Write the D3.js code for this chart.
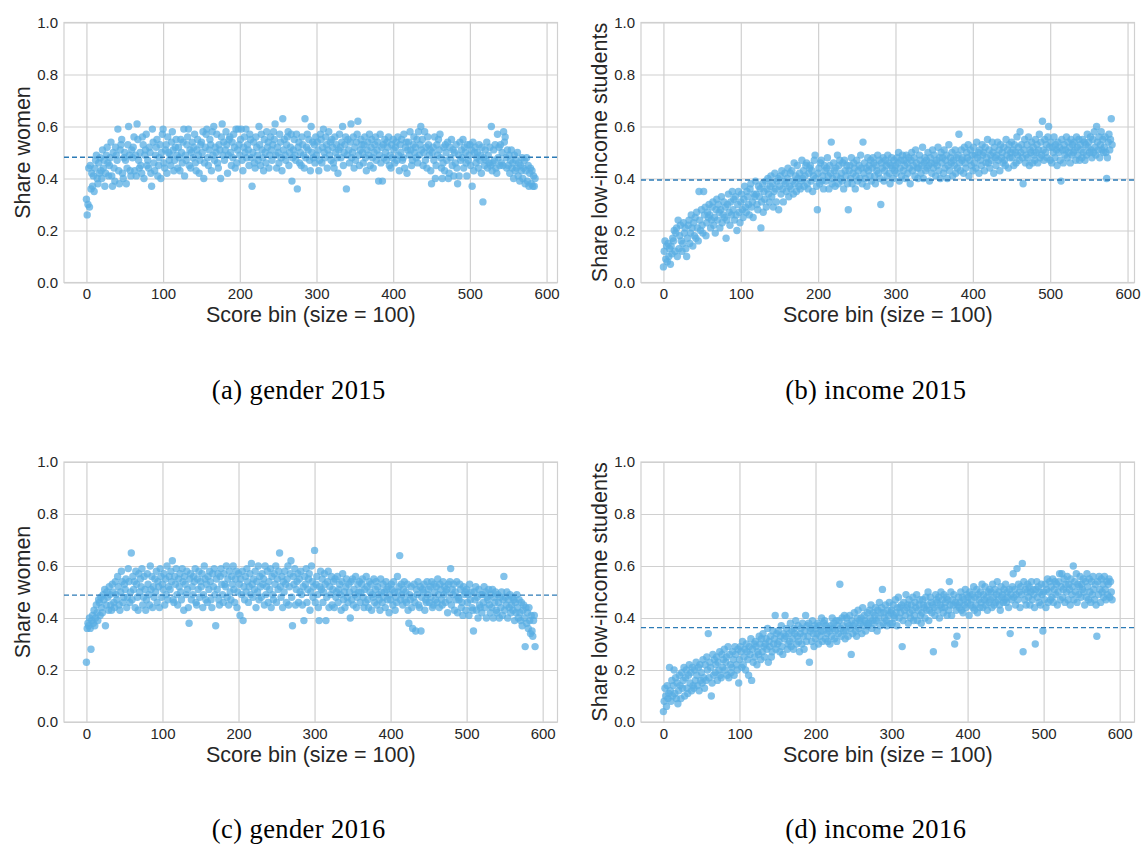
<!DOCTYPE html>
<html>
<head>
<meta charset="utf-8">
<script src="https://cdn.jsdelivr.net/npm/d3@7"></script>
<style>
  body { margin: 0; background: #ffffff; }
  .tick text { font-family: "Liberation Sans", Arial, sans-serif; font-size: 15px; fill: #262626; }
  .axisLabel { font-family: "Liberation Sans", Arial, sans-serif; font-size: 21.5px; fill: #262626; }
  .caption { font-family: "Liberation Serif", "Times New Roman", serif; font-size: 26.5px; letter-spacing: 0.4px; fill: #000; }
</style>
</head>
<body>
<div id="figure"></div>
<script>
// Share per score bin, in percent, one value per bin (bin index = position)
var gender2015 = [
  32,26,30,44,29,45,36,42,37,41, 35,44,47,49,40,38,46,42,48,43, 40,51,44,47,37,42,49,52,46,41,
  45,48,54,41,37,50,44,39,52,49, 47,59,43,38,51,53,55,42,40,48, 50,47,38,44,53,60,49,43,41,51,
  48,52,56,43,49,41,61,55,47,44, 50,45,42,56,53,40,49,51,57,45, 47,44,52,50,42,37,59,54,46,43,
  49,52,55,41,45,48,53,40,50,57, 59,46,44,51,53,42,56,50,47,49, 45,54,58,51,43,47,52,55,49,44,
  52,48,43,55,50,46,54,59,41,49, 47,53,56,59,45,51,44,50,54,48, 52,57,46,43,51,55,49,42,47,53,
  54,50,58,40,46,52,57,59,48,45, 51,55,53,43,58,49,60,47,52,50, 57,46,44,53,51,40,56,61,49,54,
  47,51,58,53,42,49,55,56,50,45, 54,48,57,52,44,59,46,51,59,53, 49,55,59,47,43,52,56,50,59,48,
  53,51,45,57,55,48,37,50,54,46, 44,56,52,49,47,60,53,45,57,51, 48,43,55,50,46,58,52,54,44,49,
  56,51,47,53,58,55,61,49,44,52, 50,46,57,54,48,43,63,51,55,49, 47,53,56,58,45,50,52,57,39,48,
  51,55,49,47,57,36,52,54,46,50, 45,56,53,49,44,63,48,52,57,51, 55,47,43,60,50,54,48,53,46,56,
  49,54,51,43,47,57,55,46,52,59, 50,48,56,53,44,51,58,49,54,47, 55,52,46,44,56,50,53,48,42,51,
  57,52,48,54,60,45,50,53,56,36, 49,55,51,46,54,61,48,50,56,44, 52,47,54,57,62,49,45,51,55,53,
  50,46,53,56,48,43,51,54,49,57, 45,52,55,48,44,50,53,56,47,51, 54,39,49,57,46,52,39,53,48,55,
  50,47,54,52,56,45,49,44,53,48, 55,51,46,52,54,47,56,49,43,53, 50,55,47,48,57,44,52,54,42,51,
  54,49,58,51,45,47,53,56,50,52, 48,55,46,58,49,53,60,51,55,45, 50,58,47,52,44,56,53,49,51,43,
  38,50,52,47,56,40,45,53,49,55, 51,57,48,44,40,46,52,43,53,50, 47,54,40,42,52,48,55,45,51,41,
  50,46,53,44,38,49,41,54,47,51, 48,55,44,52,50,46,41,53,47,49, 53,45,51,37,54,43,50,52,46,48,
  50,44,53,47,49,42,52,31,48,45, 51,47,54,44,49,46,52,45,60,43, 46,51,47,53,44,42,57,48,52,45,
  53,46,50,45,58,54,56,48,44,51, 45,49,42,47,51,44,46,40,49,43, 47,44,50,41,46,39,45,43,48,40,
  44,47,38,43,48,39,45,37,42,44, 38,43,37,41,37,40
];

var income2015 = [
  6,12,16,9,14,8,15,10,13,7, 14,11,17,16,20,12,19,21,10,24, 13,18,22,16,12,15,23,19,21,13,
  10,17,22,24,15,19,26,21,14,23, 18,25,17,27,21,16,35,24,20,28, 22,19,35,26,29,18,23,27,25,30,
  26,21,24,29,31,22,25,19,28,32, 24,30,27,21,28,33,23,26,31,25, 29,17,24,30,34,27,22,31,26,35,
  28,32,24,33,26,20,30,35,27,23, 31,34,28,25,32,37,29,27,35,33, 30,26,36,38,29,31,25,34,33,39,
  34,30,28,37,33,36,21,31,38,27, 35,32,39,29,36,40,34,31,37,41, 33,38,29,35,42,36,31,39,40,28,
  37,41,34,43,36,31,39,42,38,35, 40,44,33,37,42,36,43,39,34,46, 38,41,35,45,40,37,42,36,39,47,
  40,43,37,41,45,46,38,36,42,44, 45,39,43,35,41,47,49,40,37,28, 42,44,38,46,47,39,41,36,45,43,
  39,44,48,41,36,45,42,54,38,40, 46,43,37,44,41,49,38,45,47,40, 42,39,46,36,47,43,41,45,38,28,
  43,45,40,48,38,42,46,44,36,41, 47,39,43,45,40,49,44,38,54,42, 46,40,44,37,48,43,45,41,47,39,
  44,48,46,41,38,45,43,49,42,47, 40,30,46,44,48,39,43,47,45,41, 49,46,42,38,45,48,44,40,47,43,
  45,42,48,46,50,39,44,47,41,49, 43,47,45,40,49,46,42,48,44,38, 47,50,43,45,48,41,51,46,44,40,
  44,49,47,42,45,52,40,46,48,43, 47,44,50,45,39,48,46,42,51,44, 49,46,41,47,45,52,43,48,40,50,
  46,48,42,51,44,47,49,40,45,53, 43,48,46,50,41,47,45,51,42,48, 44,49,57,46,43,51,47,48,42,52,
  46,44,50,48,53,41,47,51,45,49, 43,52,46,49,44,54,48,50,42,51, 47,45,53,49,50,43,52,46,48,55,
  46,51,44,49,47,54,50,42,52,48, 45,49,54,47,51,43,53,48,50,46, 52,47,45,55,49,51,44,53,48,50,
  54,48,51,45,53,50,46,56,49,52, 47,58,50,53,48,38,51,55,46,49, 53,48,56,45,51,50,54,46,52,49,
  47,55,50,53,46,51,57,48,54,49, 62,51,47,55,50,53,48,56,60,52, 47,54,46,52,50,56,48,53,51,45,
  54,50,52,47,39,55,51,46,53,49, 51,56,48,54,50,52,46,55,49,53, 50,54,51,47,56,52,49,55,47,53,
  51,48,55,50,54,47,53,49,57,52, 54,50,56,51,48,55,50,58,52,49, 60,54,51,56,48,53,58,51,55,50,
  52,56,50,40,48,54,57,51,55,63, 53
];

var gender2016 = [
  23,36,38,37,40,36,28,39,41,38, 43,37,40,45,42,39,47,46,41,48, 44,42,49,47,51,37,45,50,48,43,
  52,49,45,43,53,50,46,44,54,49, 47,56,52,45,43,50,58,54,46,48, 53,51,55,44,48,59,54,46,50,65,
  47,56,51,54,44,58,53,48,43,57, 50,55,52,59,45,48,56,51,43,47, 57,53,49,45,60,51,56,44,52,48,
  55,50,58,46,54,52,44,59,56,48, 53,51,57,45,55,49,60,47,52,56, 51,58,54,62,47,46,56,53,59,49,
  45,55,52,57,50,47,59,54,43,56, 53,49,58,51,44,38,55,57,47,52, 49,56,54,59,46,45,55,51,58,48,
  54,52,57,44,49,60,55,47,53,46, 56,51,58,54,47,44,57,52,59,49, 37,55,51,57,47,45,56,59,53,49,
  46,57,53,52,60,48,55,45,58,50, 47,56,53,60,51,46,55,58,44,50, 57,53,41,55,49,58,39,52,47,56,
  50,59,54,46,52,57,49,61,53,48, 55,51,58,44,54,50,60,47,56,52, 48,57,53,55,45,60,49,52,58,46,
  54,51,59,44,56,49,47,57,53,60, 46,55,51,58,65,52,48,56,44,54, 50,58,53,46,55,60,45,52,57,62,
  48,37,56,53,59,45,51,54,57,46, 55,50,58,49,45,52,39,56,53,59, 46,51,55,57,43,50,60,54,48,52,
  66,46,53,56,49,44,39,52,58,51, 55,46,50,57,53,39,48,54,58,44, 52,49,56,45,51,54,44,55,48,50,
  56,46,51,53,49,43,54,57,47,50, 44,52,55,48,46,53,50,40,54,47, 55,45,51,49,56,44,48,53,50,54,
  46,50,53,55,48,44,51,46,56,52, 47,44,54,50,53,43,49,48,55,46, 51,54,45,52,49,47,43,55,50,46,
  53,48,50,44,54,51,47,52,42,49, 47,53,51,45,54,50,43,48,46,56, 50,52,64,47,53,49,45,51,54,47,
  50,46,53,43,38,49,47,52,44,36, 48,53,46,35,51,49,54,45,44,52, 35,48,51,50,53,43,47,46,54,49,
  51,46,52,48,54,44,45,53,50,47, 52,46,55,49,44,53,51,47,45,54, 49,52,46,50,51,42,53,47,54,59,
  45,51,49,53,43,50,47,54,42,48, 47,53,51,44,46,41,52,49,50,43, 51,46,49,41,53,47,50,44,43,35,
  50,47,52,43,48,40,51,45,44,49, 42,49,46,52,44,50,40,48,47,51, 45,42,49,44,51,40,48,46,50,43,
  42,49,46,40,48,44,50,41,47,56, 43,48,45,50,40,47,44,49,42,45, 48,43,47,39,46,42,49,44,40,47,
  42,39,46,37,43,45,40,29,44,38, 42,36,44,39,34,41,35,33,39,41, 29
];

var income2016 = [
  4,8,13,10,6,14,9,11,21,12, 8,16,10,14,20,11,17,9,15,7, 12,18,14,9,19,13,16,21,10,17,
  20,13,11,18,22,15,19,12,21,14, 13,20,16,23,18,14,21,12,22,16, 19,15,24,17,13,22,16,25,20,34,
  17,23,21,10,15,26,18,24,19,22, 25,16,23,20,27,18,17,26,21,24, 28,20,23,25,18,29,17,26,22,19,
  21,27,24,18,29,26,22,20,28,15, 24,29,27,21,31,22,25,28,20,30, 27,24,18,29,26,32,16,28,23,30,
  25,31,29,22,27,26,33,30,24,32, 27,34,29,25,30,32,28,36,23,31, 29,33,25,27,35,30,32,41,28,34,
  30,35,31,27,33,37,29,26,34,32, 41,33,36,28,30,34,31,38,29,35, 32,28,36,34,39,30,33,37,31,27,
  34,36,30,38,33,28,35,41,31,37, 33,38,23,35,36,31,39,34,29,37, 32,36,34,38,30,37,33,35,40,31,
  35,38,39,32,37,34,31,36,35,30, 37,33,40,36,38,32,35,39,31,37, 34,39,53,36,33,40,37,35,41,32,
  35,40,38,33,37,41,36,26,39,34, 37,42,38,35,33,40,43,36,39,38, 40,34,44,37,41,39,35,38,42,37,
  38,43,40,45,36,39,42,38,41,44, 39,35,43,40,46,37,42,44,51,38, 42,40,45,39,37,43,41,46,38,42,
  43,38,45,41,40,47,42,37,44,48, 40,44,42,45,29,39,46,43,41,49, 44,45,38,47,42,40,45,43,48,39,
  41,46,44,49,39,43,45,47,41,38, 42,47,45,44,40,48,43,45,50,39, 43,48,46,42,45,27,44,41,49,47,
  46,43,48,40,45,50,44,47,42,49, 44,46,48,41,47,43,54,45,50,41, 47,45,49,30,46,43,33,45,48,44,
  46,50,43,48,42,47,45,51,44,49, 46,48,41,50,45,47,49,44,52,43, 48,45,51,42,49,47,44,50,46,53,
  44,49,47,52,45,48,43,50,46,51, 47,50,44,53,48,45,51,46,49,54, 47,50,45,43,52,48,49,46,51,47,
  53,46,50,48,44,51,34,49,47,52, 57,48,51,45,49,59,47,53,50,44, 52,49,61,27,54,47,51,45,50,53,
  48,52,45,50,54,47,51,49,44,30, 51,54,48,52,46,50,45,53,49,35, 50,47,53,44,51,55,46,50,54,47,
  52,48,55,46,51,54,49,53,45,50, 54,57,47,52,57,48,51,55,46,53, 50,56,47,53,51,45,55,49,52,60,
  47,54,50,57,46,53,49,52,56,48, 53,51,55,50,45,54,48,57,52,47, 55,50,46,54,49,56,51,47,53,45,
  33,54,49,56,51,46,55,50,53,48, 56,51,47,54,49,53,55,48,54,50, 47
];

// Overall share (dashed reference line) for each panel
var meanShares = [0.482, 0.394, 0.488, 0.363];

var seriesList = [gender2015, income2015, gender2016, income2016];
var yLabels = ["Share women", "Share low-income students", "Share women", "Share low-income students"];
var captions = ["(a) gender 2015", "(b) income 2015", "(c) gender 2016", "(d) income 2016"];
var xLabel = "Score bin (size = 100)";
var xTicks = [0, 100, 200, 300, 400, 500, 600];
var yTicks = [0.0, 0.2, 0.4, 0.6, 0.8, 1.0];

// Figure layout
var svgWidth = 1141;
var svgHeight = 844;
var panelLefts = [64, 641];
var panelTops = [22.5, 462];
var plotWidth = 493.5;
var plotHeight = 260;

var pointColor = "#58ade3";
var meanColor = "#2c7bb6";
var gridColor = "#d0d0d0";

var svg = d3.select("#figure")
    .append("svg")
    .attr("width", svgWidth)
    .attr("height", svgHeight);

seriesList.forEach(function (series, i) {
    var left = panelLefts[i % 2];
    var top = panelTops[Math.floor(i / 2)];

    var points = series.map(function (v, bin) {
        return { bin: bin, share: v / 100 };
    });

    // x domain padded 5% like matplotlib's default margins
    var lastBin = points.length - 1;
    var xScale = d3.scaleLinear()
        .domain([-0.05 * lastBin, 1.05 * lastBin])
        .range([0, plotWidth]);

    var yScale = d3.scaleLinear()
        .domain([0, 1])
        .range([plotHeight, 0]);

    var g = svg.append("g")
        .attr("transform", `translate(${left}, ${top})`);

    // Gridlines + tick labels
    var bottomAxis = d3.axisBottom(xScale)
        .tickValues(xTicks)
        .tickSize(-plotHeight)
        .tickPadding(6)
        .tickFormat(d3.format("d"));

    var leftAxis = d3.axisLeft(yScale)
        .tickValues(yTicks)
        .tickSize(-plotWidth)
        .tickPadding(6)
        .tickFormat(d3.format(".1f"));

    var xAxisG = g.append("g")
        .attr("transform", `translate(0, ${plotHeight})`)
        .call(bottomAxis);

    var yAxisG = g.append("g")
        .call(leftAxis);

    [xAxisG, yAxisG].forEach(function (ax) {
        ax.select(".domain").remove();
        ax.selectAll(".tick line")
            .attr("stroke", gridColor)
            .attr("stroke-width", 1.2);
    });

    // Frame (spines)
    g.append("rect")
        .attr("width", plotWidth)
        .attr("height", plotHeight)
        .attr("fill", "none")
        .attr("stroke", gridColor)
        .attr("stroke-width", 1.2);

    // Scatter points
    g.selectAll("circle")
        .data(points)
        .enter()
        .append("circle")
        .attr("cx", d => xScale(d.bin))
        .attr("cy", d => yScale(d.share))
        .attr("r", 3.7)
        .attr("fill", pointColor)
        .attr("fill-opacity", 0.75);

    // Mean reference line
    g.append("line")
        .attr("x1", 0)
        .attr("x2", plotWidth)
        .attr("y1", yScale(meanShares[i]))
        .attr("y2", yScale(meanShares[i]))
        .attr("stroke", meanColor)
        .attr("stroke-width", 1.4)
        .attr("stroke-dasharray", "5,3");

    // Axis labels
    g.append("text")
        .attr("class", "axisLabel")
        .attr("transform", `translate(${-42}, ${plotHeight / 2}) rotate(-90)`)
        .attr("text-anchor", "middle")
        .attr("dy", "0.35em")
        .text(yLabels[i]);

    g.append("text")
        .attr("class", "axisLabel")
        .attr("x", plotWidth / 2)
        .attr("y", plotHeight + 32)
        .attr("text-anchor", "middle")
        .attr("dy", "0.35em")
        .text(xLabel);

    // Subfigure caption
    g.append("text")
        .attr("class", "caption")
        .attr("x", plotWidth / 2 - 12)
        .attr("y", plotHeight + 107)
        .attr("text-anchor", "middle")
        .attr("dy", "0.35em")
        .text(captions[i]);
});
</script>
</body>
</html>
